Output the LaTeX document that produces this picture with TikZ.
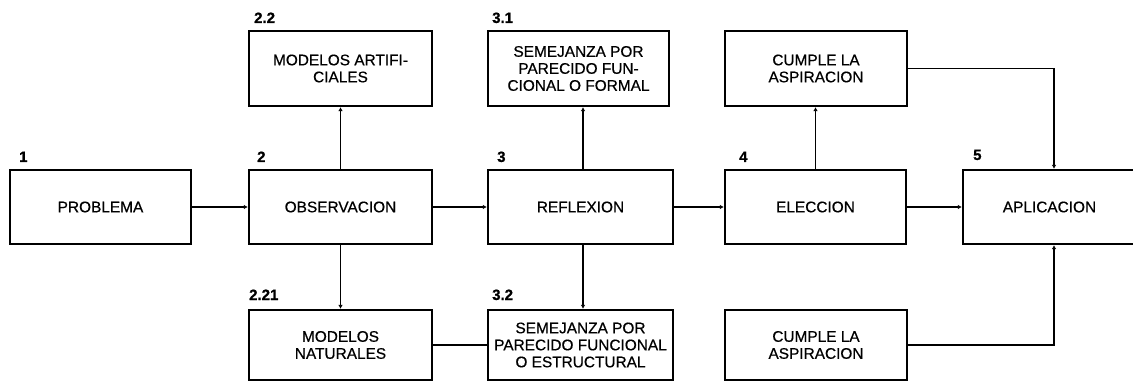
\documentclass[tikz,border=0pt]{standalone}
\usepackage{fontspec}
\setmainfont[FakeBold=0.6]{Liberation Sans}
\newfontfamily\lblfont[FakeBold=0.8]{Liberation Sans}
\usetikzlibrary{arrows.meta}
\tikzset{
  box/.style={draw, line width=2.2pt, inner sep=1pt, align=center,
    font=\fontsize{15.4}{17}\selectfont},
  lbl/.style={anchor=base west, inner sep=0pt, font=\lblfont\fontsize{15}{15}\selectfont\bfseries},
  conn/.style={line width=1.4pt},
  arr/.style={line width=1.4pt, -{Latex[length=4pt,width=4.5pt]}}
}
\begin{document}
\begin{tikzpicture}[x=1pt,y=-1pt]
\useasboundingbox (0,0) rectangle (1133,382);
% middle row
\node[box, minimum width=181, minimum height=74] (b1) at (100.5,207) {PROBLEMA};
\node[box, minimum width=183, minimum height=74] (b2) at (340.5,207) {OBSERVACION};
\node[box, minimum width=185, minimum height=74] (b3) at (580.5,207) {REFLEXION};
\node[box, minimum width=181, minimum height=74] (b4) at (815.5,207) {ELECCION};
\node[box, minimum width=173, minimum height=74] (b5) at (1049.5,207) {APLICACION};
% top row
\node[box, minimum width=183, minimum height=75] (b22) at (340.5,68.5) {MODELOS ARTIFI-\\CIALES};
\node[box, minimum width=181, minimum height=75] (b31) at (578.5,68.5) {SEMEJANZA POR\\PARECIDO FUN-\\CIONAL O FORMAL};
\node[box, minimum width=182, minimum height=75] (b41) at (816,68.5) {CUMPLE LA\\ASPIRACION};
% bottom row
\node[box, minimum width=183, minimum height=70] (b221) at (340.5,345) {MODELOS\\NATURALES};
\node[box, minimum width=185, minimum height=70] (b32) at (580.5,345) {SEMEJANZA POR\\PARECIDO FUNCIONAL\\O ESTRUCTURAL};
\node[box, minimum width=182, minimum height=70] (b42) at (816,345) {CUMPLE LA\\ASPIRACION};
% labels
\node[lbl] (l1) at (19,162) {1};
\node[lbl] (l2) at (257,162) {2};
\node[lbl] (l3) at (497,162) {3};
\node[lbl] (l4) at (739,162) {4};
\node[lbl] (l5) at (973,160) {5};
\node[lbl] (l22) at (254,23) {2.2};
\node[lbl] (l31) at (492,23) {3.1};
\node[lbl] (l221) at (249,300) {2.21};
\node[lbl] (l32) at (492,300) {3.2};
% connectors
\draw[arr] (b1.east) -- (b2.west);
\draw[arr] (b2.east) -- (b3.west);
\draw[arr] (b3.east) -- (b4.west);
\draw[arr] (b4.east) -- (b5.west);
\coordinate (c3) at (583,207);
\draw[arr] (c3 |- b3.north) -- (c3 |- b31.south);
\draw[arr] (c3 |- b3.south) -- (c3 |- b32.north);
\draw[arr] (b2.north) -- (b22.south);
\draw[arr] (b2.south) -- (b221.north);
\draw[arr] (b4.north) -- (b4.north |- b41.south);
\draw[conn] (b221.east) -- (b32.west);
\coordinate (j) at (1054,207);
\draw[arr] (b41.east) -| (j |- b5.north);
\draw[arr] (b42.east) -| (j |- b5.south);
\end{tikzpicture}
\end{document}
